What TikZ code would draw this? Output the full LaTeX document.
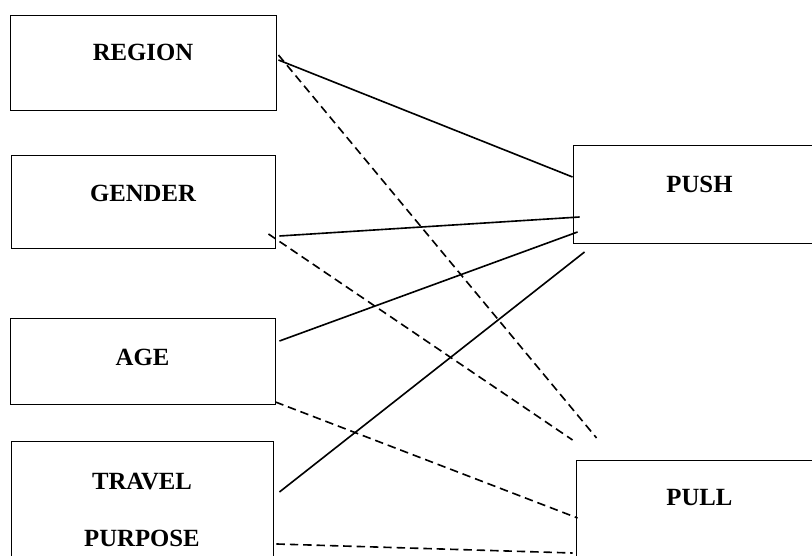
\documentclass[tikz,border=0pt]{standalone}
\usepackage{fontspec}
\setmainfont{Liberation Serif}
\usetikzlibrary{calc}

\begin{document}
\begin{tikzpicture}[x=0.025cm, y=-0.025cm, thick,
    factor/.style = {draw, line width=0.6pt, inner sep=0pt, font=\bfseries\fontsize{17.6}{20}\selectfont, text height=11.6pt, text depth=#1},
    factor/.default = 13pt,
    pushlink/.style = {line width=1.15pt},
    pulllink/.style = {line width=1.15pt, dash pattern=on 6pt off 3.5pt}]
    \path[use as bounding box, clip] (0,0) rectangle (812,556);
    \node[factor=13.8pt, minimum width=6.65cm, minimum height=2.375cm] (region) at (143,62.5) {REGION};
    \node[factor=12.3pt, minimum width=6.6cm, minimum height=2.325cm] (gender) at (143,201.5) {GENDER};
    \node[factor=4.6pt, minimum width=6.625cm, minimum height=2.15cm] (age) at (142.5,361) {AGE};
    \node[draw, line width=0.6pt, inner sep=0pt, align=center, font=\bfseries\fontsize{17.6}{20}\selectfont, minimum width=6.55cm, minimum height=3.45cm] (travel) at (142,510) {TRAVEL\\[20.5pt]PURPOSE};
    \node[factor=13.1pt, minimum width=6.325cm, minimum height=2.45cm] (push) at (699.5,194) {PUSH};
    \node[factor=14.5pt, minimum width=6.175cm, minimum height=2.4cm] (pull) at (699.5,508) {PULL};
    % solid: factors to push
    \draw[pushlink] ($(region.east)+(2,-2.5)$) -- ($(push.west)+(0,-17)$);
    \draw[pushlink] ($(gender.east)+(4,34.5)$) -- ($(push.west)+(7,23)$);
    \draw[pushlink] ($(age.east)+(4,-20)$) -- ($(push.west)+(5,38)$);
    \draw[pushlink] ($(travel.east)+(6,-18)$) -- ($(push.west)+(12,58)$);
    % dashed: factors to pull
    \draw[pulllink] ($(region.east)+(2,-7.5)$) -- ($(pull.west)+(21,-70)$);
    \draw[pulllink] ($(gender.east)+(-7,32.5)$) -- ($(pull.west)+(-3,-68)$);
    \draw[pulllink] ($(age.east)+(0,41)$) -- ($(pull.west)+(2,10)$);
    \draw[pulllink] ($(travel.east)+(3,34)$) -- ($(pull.west)+(-3,45)$);
\end{tikzpicture}
\end{document}
